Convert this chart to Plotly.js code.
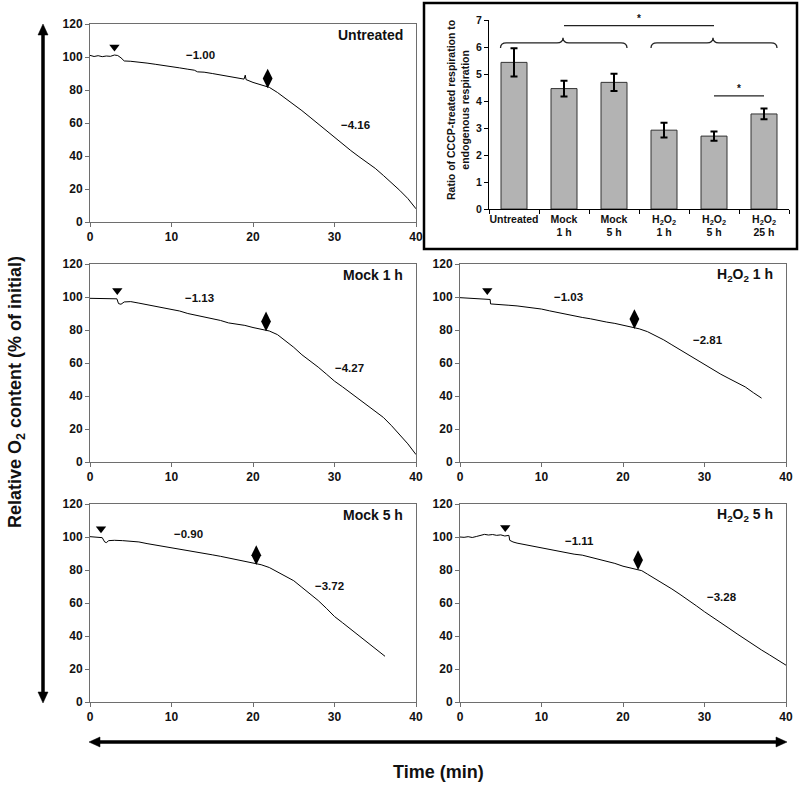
<!DOCTYPE html>
<html><head><meta charset="utf-8">
<script src="https://cdn.plot.ly/plotly-3.0.1.min.js"></script>
<style>body{margin:0;background:#fff}#chart{width:800px;height:787px}</style>
</head><body><div id="chart"></div>
<script>
// ---------- DATA ----------
const untreatedT = [0,0.5,1,1.5,2,2.5,3,3.4,3.8,4.2,5,6,7,8,9,10,11,12,12.8,13.2,14,15,16,17,18,18.9,19.05,19.15,20,21,22,23,24,25,26,27,28,29,30,31,32,33,34,35,36,37,38,39,40];
const untreatedY = [101,100.3,100.8,100.2,100.6,100.4,101.2,100.9,99.5,97.6,97.4,97,96.3,95.6,95.0,94.3,93.4,92.6,92.0,91.0,90.8,90.0,89.1,88.2,87.2,86.6,89,86.3,84.6,83,81.6,78.5,75,71.5,67.5,63.5,59.5,55.3,51.0,47.2,43.3,39.6,36.0,32.5,28.2,23.8,19.2,14.2,8];

const mock1T = [0,1,2,3,3.3,3.5,3.8,4.2,5,6,7,8,9,10,11,12,13,14,15,16,17,18,19,20,21,22,23,24,25,26,27,28,29,30,31,32,33,34,35,36,37,38,39,40];
const mock1Y = [99.2,99.0,99.1,98.8,98.9,96.0,95.6,97.0,97.2,96.3,95.3,94.3,93.4,92.5,91.5,90.0,89.0,88.0,86.6,85.8,84.3,83.5,82.8,81.5,80.5,79.4,77.2,73.5,69.5,65.0,61.5,57.5,53.3,49.0,45.5,41.8,38.2,34.6,31.0,27.0,22.0,16.5,11.0,4.5];

const h2o2_1T = [0,1,2,3,3.7,3.75,5,6,7,8,9,10,11,12,13,14,15,16,17,18,19,20,21,22,23,24,25,26,27,28,29,30,31,32,33,34,35,36,37];
const h2o2_1Y = [99.6,99.4,99.0,98.8,98.5,95.8,95.6,95.0,94.6,94.1,93.3,92.7,91.6,90.5,89.5,88.6,87.6,86.8,85.6,84.8,84.0,83.0,81.6,80.7,79.0,76.6,74.0,71.0,68.0,65.0,61.8,58.9,56.2,53.2,50.6,48.0,45.5,42.0,38.7];

const mock5T = [0,0.5,1,1.5,1.8,2.0,2.3,3,4,5,6,7,8,9,10,11,12,13,14,15,16,17,18,19,20,21,22,23,24,25,26,27,28,29,30,31,32,33,34,35,36,36.2];
const mock5Y = [100.2,100.0,100.1,99.6,97.0,96.6,97.8,98.0,97.8,97.6,97.0,96.0,95.2,94.3,93.5,92.6,91.8,90.9,90.0,89.2,88.3,87.3,86.4,85.3,84.3,83.2,81.5,79.0,76.5,73.5,69.5,65.5,61.5,56.8,51.8,48.0,44.2,40.2,36.4,32.5,28.8,27.7];

const h2o2_5T = [0,0.5,1,1.5,2,2.5,3,3.5,4,4.5,5,5.5,6.0,6.1,6.5,7,8,9,10,11,12,13,14,15,16,17,18,19,20,21,22,22.3,23,24,25,26,27,28,29,30,31,32,33,34,35,36,37,38,39,40];
const h2o2_5Y = [100.0,99.8,100.2,99.7,100.3,101.0,101.6,101.2,101.5,101.0,101.3,100.6,101.0,98.0,97.0,96.3,95.3,94.3,93.5,92.5,91.5,90.6,89.6,89.0,87.8,86.6,85.3,84.0,82.3,81.0,80.0,79.6,77.5,74.6,71.9,68.5,65.2,62.0,58.3,54.7,51.5,48.0,44.7,41.3,37.9,34.8,31.5,28.5,25.3,22.3];

const panelTitles = ['Untreated','Mock 1 h','H<sub>2</sub>O<sub>2</sub> 1 h','Mock 5 h','H<sub>2</sub>O<sub>2</sub> 5 h'];
// CCCP-addition (triangle) and endogenous-end (diamond) marks [x, y]
const triangleMarks = [[3.0,106],[3.35,104],[3.35,104],[1.35,105],[5.55,105.7]];
const diamondMarks = [[21.8,87],[21.6,85.2],[21.4,86.6],[20.4,89],[21.85,86]];
// rate labels: [text, x, y]
const rateLabels = [
  [['\u22121.00',13.6,101.4],['\u22124.16',32.6,59]],
  [['\u22121.13',13.4,99.4],['\u22124.27',31.9,56.9]],
  [['\u22121.03',13.3,100],['\u22122.81',30.4,73.7]],
  [['\u22120.90',12.1,101.8],['\u22123.72',29.4,70.2]],
  [['\u22121.11',14.7,97.6],['\u22123.28',32.2,63.4]]
];

const barCategories = ['Untreated','Mock<br>1 h','Mock<br>5 h','H<sub>2</sub>O<sub>2</sub><br>1 h','H<sub>2</sub>O<sub>2</sub><br>5 h','H<sub>2</sub>O<sub>2</sub><br>25 h'];
const barValues = [5.43,4.46,4.69,2.92,2.70,3.52];
const barErrors = [0.52,0.29,0.32,0.27,0.17,0.20];
// braces over groups: [start, end, tip] in category index units
const braces = [[-0.27,2.26,0.98],[2.74,5.26,3.98]];
// significance lines: [x0, x1, y]
const sigLines = [[1.0,4.0,6.79],[4.0,5.0,4.19]];

// ---------- LAYOUT ----------
const F = 'Arial, "Liberation Sans", Helvetica, sans-serif';
const W = 800, H = 787;
const px = x => x / W, py = y => 1 - y / H;

const series = [[untreatedT,untreatedY],[mock1T,mock1Y],[h2o2_1T,h2o2_1Y],[mock5T,mock5Y],[h2o2_5T,h2o2_5Y]];
// panel pixel boxes [left, right, top, bottom]
const boxes = [[90,416,24,222],[90,416,264,462],[460,786,264,462],[90,416,504,702],[460,786,504,702]];

const traces = [];
const layout = {
  width: W, height: H, margin: {l:0,r:0,t:0,b:0},
  paper_bgcolor: '#fff', plot_bgcolor: 'rgba(0,0,0,0)',
  showlegend: false, font: {family: F, color: '#111'},
  annotations: [], shapes: []
};
const tickFont = {family: F, size: 12, weight: 700, color: '#111'};
const axCol = '#6e6e6e';

series.forEach((s, i) => {
  const n = i + 1, b = boxes[i];
  const xa = 'x' + n, ya = 'y' + n;
  traces.push({x: s[0], y: s[1], xaxis: xa, yaxis: ya, type: 'scatter', mode: 'lines',
    line: {color: '#000', width: 1}, hoverinfo: 'skip'});
  traces.push({x: [triangleMarks[i][0]], y: [triangleMarks[i][1]], xaxis: xa, yaxis: ya, type: 'scatter', mode: 'markers',
    marker: {symbol: 'triangle-down', size: 9, color: '#000'}});
  traces.push({x: [diamondMarks[i][0]], y: [diamondMarks[i][1]], xaxis: xa, yaxis: ya, type: 'scatter', mode: 'markers',
    marker: {symbol: 'diamond-tall', size: 14, color: '#000'}});
  layout['xaxis' + n] = {domain: [px(b[0]), px(b[1])], anchor: ya, range: [0, 40], tickvals: [0,10,20,30,40],
    showline: true, linecolor: axCol, linewidth: 1, mirror: true, ticks: 'outside', ticklen: 4, tickcolor: axCol,
    showgrid: false, zeroline: false, tickfont: tickFont, fixedrange: true};
  layout['yaxis' + n] = {domain: [py(b[3]), py(b[2])], anchor: xa, range: [0, 120], tickvals: [0,20,40,60,80,100,120],
    showline: true, linecolor: axCol, linewidth: 1, mirror: true, ticks: 'outside', ticklen: 4, tickcolor: axCol,
    showgrid: false, zeroline: false, tickfont: tickFont, fixedrange: true};
  layout.annotations.push({xref: xa, yref: ya, x: 38.7, y: 113.5, xanchor: 'right', yanchor: 'middle',
    text: panelTitles[i], showarrow: false, font: {family: F, size: 14, weight: 700, color: '#111'}});
  rateLabels[i].forEach(r => layout.annotations.push({xref: xa, yref: ya, x: r[1], y: r[2], text: r[0],
    xanchor: 'center', yanchor: 'middle',
    showarrow: false, font: {family: F, size: 11.5, weight: 700, color: '#111'}}));
});

// bar chart inset
const barX = barValues.map((v, i) => i);
traces.push({type: 'bar', x: barX, y: barValues, xaxis: 'x6', yaxis: 'y6', width: 0.52,
  marker: {color: '#b3b3b3', line: {color: '#333', width: 1}},
  error_y: {type: 'data', array: barErrors, visible: true, thickness: 2, width: 3.5, color: '#000'}, hoverinfo: 'skip'});
layout.xaxis6 = {domain: [px(489), px(789)], anchor: 'y6', range: [-0.5, 5.5], tickvals: barX, ticktext: barCategories,
  ticks: '', showline: true, linecolor: '#000', linewidth: 1, showgrid: false, zeroline: false,
  minor: {tick0: -0.5, dtick: 1, ticks: 'outside', ticklen: 4, tickcolor: '#000', showgrid: false},
  tickfont: {family: F, size: 10.5, weight: 700, color: '#111'}, fixedrange: true};
layout.yaxis6 = {domain: [py(209), py(20)], anchor: 'x6', range: [0, 7], dtick: 1, ticks: 'outside', ticklen: 4,
  tickcolor: '#000', showline: true, linecolor: '#000', linewidth: 1, showgrid: false, zeroline: false,
  tickfont: {family: F, size: 10.5, weight: 700, color: '#111'}, fixedrange: true};

braces.forEach(br => {
  const a = br[0], b = br[1], m = br[2], yB = 6.15, yE = 5.96, yT = 6.34, r = 0.12;
  layout.shapes.push({type: 'path', xref: 'x6', yref: 'y6', line: {color: '#222', width: 1.3},
    path: `M ${a},${yE} Q ${a},${yB} ${a + r},${yB} L ${m - r},${yB} Q ${m},${yB} ${m},${yT} Q ${m},${yB} ${m + r},${yB} L ${b - r},${yB} Q ${b},${yB} ${b},${yE}`});
});
sigLines.forEach(s => {
  layout.shapes.push({type: 'line', xref: 'x6', yref: 'y6', x0: s[0], x1: s[1], y0: s[2], y1: s[2], line: {color: '#222', width: 1.2}});
  layout.annotations.push({xref: 'x6', yref: 'y6', x: (s[0] + s[1]) / 2, y: s[2], xanchor: 'center', yanchor: 'bottom', text: '*',
    showarrow: false, font: {family: F, size: 10, weight: 700, color: '#111'}});
});
layout.annotations.push({xref: 'paper', yref: 'paper', x: px(458), y: py(110), xanchor: 'center', yanchor: 'middle',
  text: 'Ratio of CCCP-treated respiration to<br>endogenous respiration',
  textangle: -90, showarrow: false, font: {family: F, size: 10.5, weight: 700, color: '#111'}});
// inset frame
layout.shapes.push({type: 'rect', xref: 'paper', yref: 'paper', x0: px(424), x1: px(797), y0: py(249), y1: py(3),
  line: {color: '#000', width: 2.5}});

// global axis titles
layout.annotations.push({xref: 'paper', yref: 'paper', x: px(16), y: py(392), xanchor: 'center', yanchor: 'middle',
  text: 'Relative O<sub>2</sub> content (% of initial)',
  textangle: -90, showarrow: false, font: {family: F, size: 18, weight: 700, color: '#111'}});
layout.annotations.push({xref: 'paper', yref: 'paper', x: px(438), y: py(772), xanchor: 'center', yanchor: 'middle',
  text: 'Time (min)', showarrow: false, font: {family: F, size: 18, weight: 700, color: '#111'}});

// double-headed arrows
const P = (x, y) => `${px(x)},${py(y)}`;
layout.shapes.push({type: 'line', xref: 'paper', yref: 'paper', x0: px(43), x1: px(43), y0: py(33), y1: py(694), line: {color: '#000', width: 3.5}});
layout.shapes.push({type: 'path', xref: 'paper', yref: 'paper', fillcolor: '#000', line: {color: '#000', width: 0.5}, path: `M ${P(38,35)} L ${P(48,35)} L ${P(43,24)} Z`});
layout.shapes.push({type: 'path', xref: 'paper', yref: 'paper', fillcolor: '#000', line: {color: '#000', width: 0.5}, path: `M ${P(38,692)} L ${P(48,692)} L ${P(43,703)} Z`});
layout.shapes.push({type: 'line', xref: 'paper', yref: 'paper', x0: px(98), x1: px(778), y0: py(742), y1: py(742), line: {color: '#000', width: 3.5}});
layout.shapes.push({type: 'path', xref: 'paper', yref: 'paper', fillcolor: '#000', line: {color: '#000', width: 0.5}, path: `M ${P(100,737)} L ${P(100,747)} L ${P(89,742)} Z`});
layout.shapes.push({type: 'path', xref: 'paper', yref: 'paper', fillcolor: '#000', line: {color: '#000', width: 0.5}, path: `M ${P(776,737)} L ${P(776,747)} L ${P(787,742)} Z`});

Plotly.newPlot('chart', traces, layout, {displayModeBar: false, staticPlot: true});
</script>
</body></html>
